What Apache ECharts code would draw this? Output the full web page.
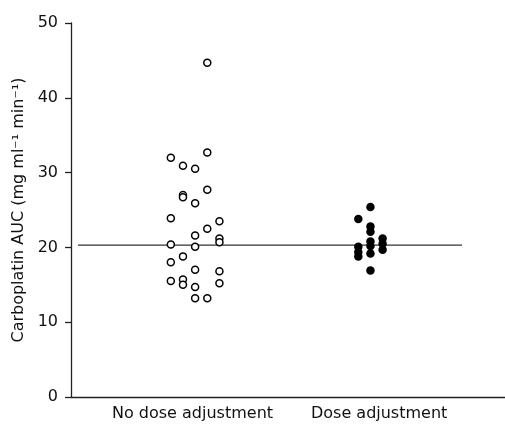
<!DOCTYPE html>
<html><head><meta charset="utf-8">
<script src="https://cdn.jsdelivr.net/npm/echarts@6/dist/echarts.min.js"></script>
<style>html,body{margin:0;padding:0;background:#fff}#c{width:505px;height:425px}</style>
</head><body><div id="c"></div>
<script>
var categories = ['No dose adjustment', 'Dose adjustment'];
var categoryPos = [28, 71];
var groupCenter = [28.6, 69.0];
var columnStep = 2.8;
// open circles: no dose adjustment
var noAdjValues = [44.7, 32.0, 32.7, 30.9, 30.5, 27.7, 27.0, 26.7, 25.9, 23.9, 23.5, 22.5, 21.6, 21.2, 20.7, 20.4, 20.1, 18.8, 18.0, 17.0, 16.8, 15.5, 15.7, 15.0, 15.2, 14.7, 13.2, 13.2];
var noAdjColumn = [1, -2, 1, -1, 0, 1, -1, -1, 0, -2, 2, 1, 0, 2, 2, -2, 0, -1, -2, 0, 2, -2, -1, -1, 2, 0, 0, 1];
// filled circles: dose adjustment
var adjValues = [25.4, 23.8, 22.8, 22.1, 20.8, 20.2, 19.2, 20.1, 19.4, 18.8, 21.2, 20.5, 19.7, 16.9];
var adjColumn = [0, -1, 0, 0, 0, 0, 0, -1, -1, -1, 1, 1, 1, 0];
var refLineValue = 20.3;
var refLineX = [1.6, 90.1];
var yTicks = [0, 10, 20, 30, 40, 50];

function pts(vals, cols, g) {
  return vals.map(function (v, i) { return [groupCenter[g] + cols[i] * columnStep, v]; });
}
var chart = echarts.init(document.getElementById('c'));
var font = 'DejaVu Sans, sans-serif';
chart.setOption({
  animation: false,
  grid: { left: 71, right: 0, top: 23, bottom: 28 },
  xAxis: {
    type: 'value', min: 0, max: 100,
    splitLine: { show: false },
    axisLine: { show: true, lineStyle: { color: '#222', width: 1.3 } },
    axisTick: { show: false },
    axisLabel: {
      customValues: categoryPos,
      formatter: function (v) { var i = categoryPos.indexOf(v); return i >= 0 ? categories[i] : ''; },
      color: '#111', fontSize: 16, fontFamily: font, margin: 9
    }
  },
  yAxis: {
    type: 'value', min: yTicks[0], max: yTicks[yTicks.length - 1], interval: 10,
    name: 'Carboplatin AUC (mg ml⁻¹ min⁻¹)', nameLocation: 'middle', nameGap: 43,
    nameTextStyle: { color: '#111', fontSize: 16, fontFamily: font },
    splitLine: { show: false },
    axisLine: { show: true, lineStyle: { color: '#222', width: 1.3 } },
    axisTick: { show: true, length: 6, lineStyle: { color: '#222', width: 1.3 } },
    axisLabel: { color: '#111', fontSize: 16, fontFamily: font, margin: 13 }
  },
  series: [
    { type: 'line', data: [[refLineX[0], refLineValue], [refLineX[1], refLineValue]], symbol: 'none',
      lineStyle: { color: '#333', width: 1.3 }, z: 1 },
    { type: 'scatter', data: pts(noAdjValues, noAdjColumn, 0), symbol: 'circle', symbolSize: 7,
      itemStyle: { color: '#fff', borderColor: '#000', borderWidth: 1.5, opacity: 1 }, z: 3 },
    { type: 'scatter', data: pts(adjValues, adjColumn, 1), symbol: 'circle', symbolSize: 8.5,
      itemStyle: { color: '#000', opacity: 1 }, z: 3 }
  ]
});
</script></body></html>
